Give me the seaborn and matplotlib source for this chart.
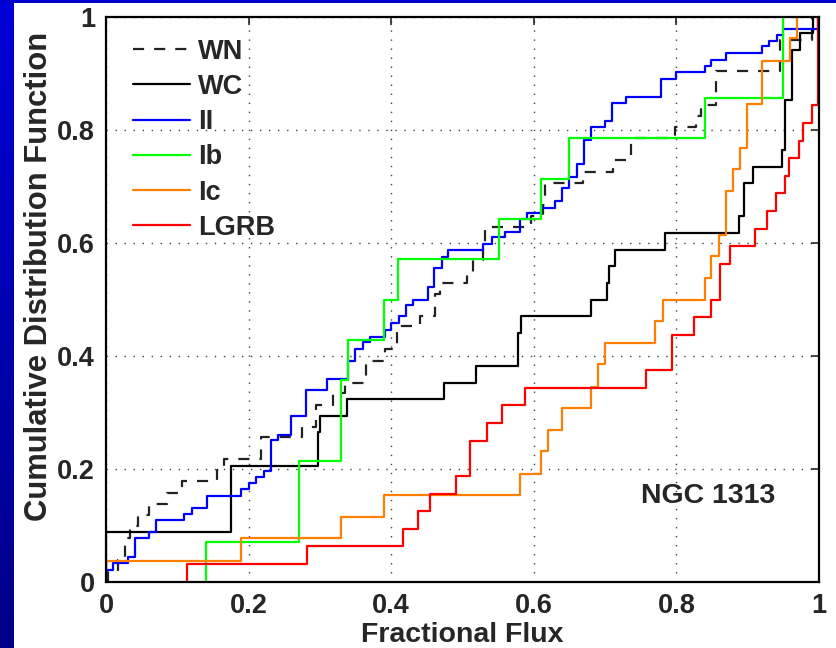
import numpy as np
import matplotlib
matplotlib.use("Agg")
import matplotlib.pyplot as plt
from matplotlib.patches import Rectangle
import seaborn as sns

# ---- data: (jump position, CDF level after the jump) ----
wn_x = [0.003, 0.017, 0.027, 0.034, 0.045, 0.060, 0.085, 0.107, 0.155, 0.165,
        0.217, 0.275, 0.295, 0.319, 0.335, 0.364, 0.391, 0.408, 0.441, 0.461,
        0.468, 0.506, 0.515, 0.529, 0.532, 0.596, 0.613, 0.616, 0.669, 0.711,
        0.737, 0.798, 0.828, 0.835, 0.856, 0.946, 0.990]
wn_y = [0.020, 0.039, 0.078, 0.099, 0.119, 0.138, 0.158, 0.178, 0.199, 0.217,
        0.257, 0.275, 0.313, 0.335, 0.353, 0.392, 0.412, 0.453, 0.471, 0.510,
        0.530, 0.549, 0.570, 0.590, 0.628, 0.648, 0.668, 0.707, 0.726, 0.747,
        0.785, 0.805, 0.825, 0.845, 0.904, 0.960, 1.000]

wc_x = [0.000, 0.176, 0.297, 0.300, 0.338, 0.474, 0.519, 0.578, 0.582, 0.680,
        0.702, 0.706, 0.714, 0.784, 0.888, 0.895, 0.908, 0.948, 0.952, 0.962,
        0.973, 0.992]
wc_y = [0.088, 0.206, 0.265, 0.294, 0.324, 0.353, 0.382, 0.441, 0.471, 0.500,
        0.529, 0.559, 0.588, 0.618, 0.647, 0.706, 0.735, 0.765, 0.853, 0.941,
        0.971, 1.000]

ii_x = [0.000, 0.010, 0.031, 0.041, 0.061, 0.070, 0.109, 0.120, 0.141, 0.190,
        0.200, 0.210, 0.221, 0.231, 0.241, 0.260, 0.280, 0.310, 0.340, 0.349,
        0.361, 0.370, 0.391, 0.400, 0.411, 0.421, 0.431, 0.451, 0.460, 0.471,
        0.480, 0.529, 0.541, 0.560, 0.581, 0.590, 0.610, 0.630, 0.640, 0.650,
        0.660, 0.670, 0.680, 0.700, 0.710, 0.730, 0.779, 0.800, 0.840, 0.849,
        0.870, 0.920, 0.930, 0.941, 0.949, 0.999]
ii_y = [0.022, 0.033, 0.045, 0.077, 0.088, 0.110, 0.120, 0.131, 0.153, 0.164,
        0.175, 0.186, 0.196, 0.251, 0.260, 0.294, 0.339, 0.359, 0.392, 0.412,
        0.424, 0.434, 0.446, 0.458, 0.470, 0.490, 0.500, 0.523, 0.555, 0.576,
        0.588, 0.598, 0.610, 0.620, 0.642, 0.653, 0.662, 0.675, 0.697, 0.717,
        0.739, 0.783, 0.805, 0.816, 0.848, 0.859, 0.891, 0.903, 0.913, 0.924,
        0.936, 0.948, 0.958, 0.968, 0.979, 1.000]

ib_x = [0.140, 0.271, 0.330, 0.339, 0.390, 0.410, 0.551, 0.610, 0.650, 0.840, 0.949]
ib_y = [0.071, 0.214, 0.357, 0.429, 0.500, 0.571, 0.643, 0.714, 0.786, 0.857, 1.000]

ic_x = [0.000, 0.190, 0.330, 0.390, 0.580, 0.610, 0.620, 0.640, 0.680, 0.690,
        0.700, 0.770, 0.781, 0.840, 0.849, 0.860, 0.870, 0.880, 0.889, 0.899,
        0.920, 0.959, 0.969]
ic_y = [0.038, 0.077, 0.115, 0.154, 0.192, 0.231, 0.269, 0.308, 0.346, 0.385,
        0.423, 0.462, 0.500, 0.538, 0.577, 0.615, 0.692, 0.731, 0.769, 0.846,
        0.923, 0.962, 1.000]

lgrb_x = [0.113, 0.282, 0.417, 0.438, 0.454, 0.491, 0.511, 0.535, 0.556, 0.588,
          0.757, 0.794, 0.825, 0.849, 0.861, 0.875, 0.910, 0.927, 0.940, 0.952,
          0.958, 0.972, 0.978, 0.990, 0.999]
lgrb_y = [0.031, 0.063, 0.094, 0.125, 0.156, 0.188, 0.250, 0.281, 0.313, 0.344,
          0.375, 0.438, 0.469, 0.500, 0.563, 0.594, 0.625, 0.656, 0.688, 0.719,
          0.750, 0.781, 0.813, 0.844, 1.000]

labels = ["WN", "WC", "II", "Ib", "Ic", "LGRB"]
colors = ["#222222", "#000000", "#0000FF", "#00FF00", "#FF7F00", "#FF0000"]
series = [(wn_x, wn_y), (wc_x, wc_y), (ii_x, ii_y), (ib_x, ib_y),
          (ic_x, ic_y), (lgrb_x, lgrb_y)]
ticks = [0, 0.2, 0.4, 0.6, 0.8, 1]
tick_labels = ["0", "0.2", "0.4", "0.6", "0.8", "1"]

# ---- style ----
sns.set_style("white")
plt.rcParams["font.family"] = ["Liberation Sans", "DejaVu Sans"]
plt.rcParams["font.weight"] = "bold"
FS = 19.5

fig = plt.figure(figsize=(8.37, 6.48), dpi=100)
fig.patch.set_facecolor("white")

# slide background: blue gradient strip on the left, thin band on top
W, H = 837.0, 648.0
nseg = 60
c_top = np.array([0x00, 0x00, 0xD8]) / 255.0
c_bot = np.array([0x00, 0x00, 0x88]) / 255.0
for i in range(nseg):
    f = i / (nseg - 1)
    col = c_bot * (1 - f) + c_top * f
    fig.patches.append(Rectangle((0, i / nseg), 14 / W, 1.0 / nseg + 0.002,
                                 transform=fig.transFigure, facecolor=col,
                                 edgecolor="none", zorder=0))
fig.patches.append(Rectangle((0, 1 - 3 / H), 1, 3 / H, transform=fig.transFigure,
                             facecolor="#0000CC", edgecolor="none", zorder=0))

ax = fig.add_axes([106 / W, 66 / H, 713 / W, 565 / H])

for (xs, ys), lab, col in zip(series, labels, colors):
    px = [xs[0]] + list(xs)
    py = [0.0] + list(ys)
    ls = (0, (5, 4.5)) if lab == "WN" else "-"
    sns.lineplot(x=px, y=py, ax=ax, drawstyle="steps-post", estimator=None,
                 sort=False, color=col, linewidth=1.6, linestyle=ls, label=lab)

ax.set_xlim(0, 1)
ax.set_ylim(0, 1)
ax.set_xticks(ticks)
ax.set_yticks(ticks)
ax.set_xticklabels(tick_labels, fontsize=FS, fontweight="bold")
ax.set_yticklabels(tick_labels, fontsize=FS, fontweight="bold")
ax.tick_params(direction="in", length=6, width=1.2, top=True, right=True, pad=8)
ax.grid(True, color="0.25", linestyle=(0, (1, 5.5)), linewidth=1.0)
for s in ax.spines.values():
    s.set_linewidth(1.6)
    s.set_color("black")

ax.set_xlabel("Fractional Flux", fontsize=20.5, fontweight="bold", labelpad=2)
ax.set_ylabel("Cumulative Distribution Function", fontsize=22.3, fontweight="bold")
ax.yaxis.set_label_coords(-0.073, 0.54)

ax.text(0.75, 0.152, "NGC 1313", fontsize=20.5, fontweight="bold",
        ha="left", va="center", transform=ax.transData)

leg = ax.legend(loc="upper left", bbox_to_anchor=(0.008, 1.0), frameon=False,
                fontsize=FS, handlelength=2.1, handletextpad=0.3,
                labelspacing=0.34, borderaxespad=0.3, borderpad=0.5)
for t in leg.get_texts():
    t.set_fontweight("bold")

fig.savefig("out.png", dpi=100, facecolor="white")
